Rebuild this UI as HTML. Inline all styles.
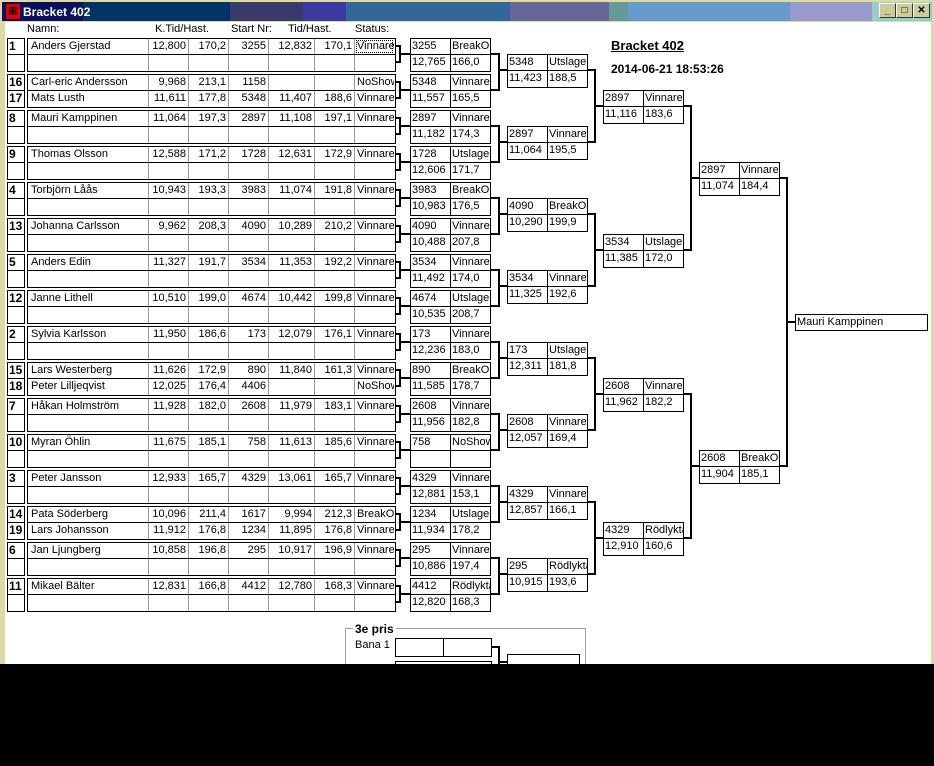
<!DOCTYPE html>
<html><head><meta charset="utf-8"><style>
*{margin:0;padding:0}
body{width:934px;height:766px;position:relative;overflow:hidden;background:#000;font-family:"Liberation Sans",Arial,sans-serif;font-size:11px;color:#000}
#win{position:absolute;left:0;top:0;width:934px;height:664px;background:#dedaa6}
#tb{position:absolute;left:2px;top:2px;width:930px;height:19px;background:linear-gradient(90deg,#0a1060 0 81px,#003366 81px 228px,#3a3a6a 228px 301px,#3a3aa0 301px 344px,#336699 344px 508px,#666699 508px 607px,#669999 607px 626px,#6699cc 626px 788px,#9999cc 788px 870px,#99cccc 870px)}
#tt{position:absolute;left:21px;top:3px;color:#fff;font-weight:bold;font-size:12px}
#ic{position:absolute;left:4px;top:2px;width:14px;height:15px;background:#e00000;color:#000;font-size:10px;line-height:15px;text-align:center;font-weight:bold}
.btn{position:absolute;top:3px;width:15px;height:13px;background:#cccc99;border:1px solid;border-color:#fff #333 #333 #fff;font-size:10px;line-height:13px;text-align:center;font-weight:bold}
#cl{position:absolute;left:5px;top:22px;width:926px;height:642px;background:#fff}
.a{position:absolute;white-space:nowrap}
.g{position:absolute;left:27px;width:369px;height:34px;border:1px solid #000;box-sizing:border-box}
.rw{display:flex;height:16px;box-sizing:border-box}
.rw:first-child{border-bottom:1px solid #000}
.g span{box-sizing:border-box;border-right:1px solid #999;height:100%;overflow:hidden;white-space:nowrap;text-align:right;padding-right:2px;line-height:15px;flex:none;width:40px}
.g span:nth-child(1){width:121px;text-align:left;padding-left:3px}
.g span:nth-child(5){width:46px}
.g span:nth-child(7){border-right:none;text-align:left;padding-left:2px;padding-right:0;width:39px}
.s{position:absolute;left:7px;width:18px;height:34px;border:1px solid #000;box-sizing:border-box;font-weight:bold;font-size:12px}
.s div{height:16px;line-height:15px;padding-left:1px;box-sizing:border-box}
.s div:first-child{border-bottom:1px solid #000}
.b{position:absolute;width:81px;height:34px;border:1px solid #000;box-sizing:border-box}
.b .rw{display:flex}
.b span{width:40px;box-sizing:border-box;border-right:1px solid #000;height:100%;overflow:hidden;white-space:nowrap;padding-left:1px;line-height:15px;flex:none}
.b span:nth-child(2){border-right:none;width:39px}
.r1{left:410px}.r2{left:507px}.r3{left:603px}.r4{left:699px}
svg{position:absolute;left:0;top:0}
#blk{position:absolute;left:0;top:664px;width:934px;height:102px;background:#000}
</style></head><body>
<div id="win">
<div id="tb"><div id="ic">⊞</div><div id="tt">Bracket 402</div></div>
<div class="btn" style="left:879px">_</div><div class="btn" style="left:896px">□</div><div class="btn" style="left:913px">✕</div>
<div id="cl"></div>
</div>
<div class="a" style="left:27px;top:23px">Namn:</div>
<div class="a" style="left:155px;top:23px">K.Tid/Hast.</div>
<div class="a" style="left:231px;top:23px">Start Nr:</div>
<div class="a" style="left:288px;top:23px">Tid/Hast.</div>
<div class="a" style="left:355px;top:23px">Status:</div>
<div class="a" style="left:611px;top:38px;font-weight:bold;font-size:13px;text-decoration:underline">Bracket 402</div>
<div class="a" style="left:611px;top:62px;font-weight:bold;font-size:12px">2014-06-21 18:53:26</div>

<div class="s" style="top:38px"><div>1</div><div></div></div>
<div class="g" style="top:38px"><div class="rw"><span>Anders Gjerstad</span><span>12,800</span><span>170,2</span><span>3255</span><span>12,832</span><span>170,1</span><span style="outline:1px dotted #000;outline-offset:-2px">Vinnare</span></div><div class="rw"><span></span><span></span><span></span><span></span><span></span><span></span><span></span></div></div>
<div class="s" style="top:74px"><div>16</div><div>17</div></div>
<div class="g" style="top:74px"><div class="rw"><span>Carl-eric Andersson</span><span>9,968</span><span>213,1</span><span>1158</span><span></span><span></span><span>NoShow</span></div><div class="rw"><span>Mats Lusth</span><span>11,611</span><span>177,8</span><span>5348</span><span>11,407</span><span>188,6</span><span>Vinnare</span></div></div>
<div class="s" style="top:110px"><div>8</div><div></div></div>
<div class="g" style="top:110px"><div class="rw"><span>Mauri Kamppinen</span><span>11,064</span><span>197,3</span><span>2897</span><span>11,108</span><span>197,1</span><span>Vinnare</span></div><div class="rw"><span></span><span></span><span></span><span></span><span></span><span></span><span></span></div></div>
<div class="s" style="top:146px"><div>9</div><div></div></div>
<div class="g" style="top:146px"><div class="rw"><span>Thomas Olsson</span><span>12,588</span><span>171,2</span><span>1728</span><span>12,631</span><span>172,9</span><span>Vinnare</span></div><div class="rw"><span></span><span></span><span></span><span></span><span></span><span></span><span></span></div></div>
<div class="s" style="top:182px"><div>4</div><div></div></div>
<div class="g" style="top:182px"><div class="rw"><span>Torbjörn Låås</span><span>10,943</span><span>193,3</span><span>3983</span><span>11,074</span><span>191,8</span><span>Vinnare</span></div><div class="rw"><span></span><span></span><span></span><span></span><span></span><span></span><span></span></div></div>
<div class="s" style="top:218px"><div>13</div><div></div></div>
<div class="g" style="top:218px"><div class="rw"><span>Johanna Carlsson</span><span>9,962</span><span>208,3</span><span>4090</span><span>10,289</span><span>210,2</span><span>Vinnare</span></div><div class="rw"><span></span><span></span><span></span><span></span><span></span><span></span><span></span></div></div>
<div class="s" style="top:254px"><div>5</div><div></div></div>
<div class="g" style="top:254px"><div class="rw"><span>Anders Edin</span><span>11,327</span><span>191,7</span><span>3534</span><span>11,353</span><span>192,2</span><span>Vinnare</span></div><div class="rw"><span></span><span></span><span></span><span></span><span></span><span></span><span></span></div></div>
<div class="s" style="top:290px"><div>12</div><div></div></div>
<div class="g" style="top:290px"><div class="rw"><span>Janne Lithell</span><span>10,510</span><span>199,0</span><span>4674</span><span>10,442</span><span>199,8</span><span>Vinnare</span></div><div class="rw"><span></span><span></span><span></span><span></span><span></span><span></span><span></span></div></div>
<div class="s" style="top:326px"><div>2</div><div></div></div>
<div class="g" style="top:326px"><div class="rw"><span>Sylvia Karlsson</span><span>11,950</span><span>186,6</span><span>173</span><span>12,079</span><span>176,1</span><span>Vinnare</span></div><div class="rw"><span></span><span></span><span></span><span></span><span></span><span></span><span></span></div></div>
<div class="s" style="top:362px"><div>15</div><div>18</div></div>
<div class="g" style="top:362px"><div class="rw"><span>Lars Westerberg</span><span>11,626</span><span>172,9</span><span>890</span><span>11,840</span><span>161,3</span><span>Vinnare</span></div><div class="rw"><span>Peter Lilljeqvist</span><span>12,025</span><span>176,4</span><span>4406</span><span></span><span></span><span>NoShow</span></div></div>
<div class="s" style="top:398px"><div>7</div><div></div></div>
<div class="g" style="top:398px"><div class="rw"><span>Håkan Holmström</span><span>11,928</span><span>182,0</span><span>2608</span><span>11,979</span><span>183,1</span><span>Vinnare</span></div><div class="rw"><span></span><span></span><span></span><span></span><span></span><span></span><span></span></div></div>
<div class="s" style="top:434px"><div>10</div><div></div></div>
<div class="g" style="top:434px"><div class="rw"><span>Myran Öhlin</span><span>11,675</span><span>185,1</span><span>758</span><span>11,613</span><span>185,6</span><span>Vinnare</span></div><div class="rw"><span></span><span></span><span></span><span></span><span></span><span></span><span></span></div></div>
<div class="s" style="top:470px"><div>3</div><div></div></div>
<div class="g" style="top:470px"><div class="rw"><span>Peter Jansson</span><span>12,933</span><span>165,7</span><span>4329</span><span>13,061</span><span>165,7</span><span>Vinnare</span></div><div class="rw"><span></span><span></span><span></span><span></span><span></span><span></span><span></span></div></div>
<div class="s" style="top:506px"><div>14</div><div>19</div></div>
<div class="g" style="top:506px"><div class="rw"><span>Pata Söderberg</span><span>10,096</span><span>211,4</span><span>1617</span><span>9,994</span><span>212,3</span><span>BreakOut</span></div><div class="rw"><span>Lars Johansson</span><span>11,912</span><span>176,8</span><span>1234</span><span>11,895</span><span>176,8</span><span>Vinnare</span></div></div>
<div class="s" style="top:542px"><div>6</div><div></div></div>
<div class="g" style="top:542px"><div class="rw"><span>Jan Ljungberg</span><span>10,858</span><span>196,8</span><span>295</span><span>10,917</span><span>196,9</span><span>Vinnare</span></div><div class="rw"><span></span><span></span><span></span><span></span><span></span><span></span><span></span></div></div>
<div class="s" style="top:578px"><div>11</div><div></div></div>
<div class="g" style="top:578px"><div class="rw"><span>Mikael Bälter</span><span>12,831</span><span>166,8</span><span>4412</span><span>12,780</span><span>168,3</span><span>Vinnare</span></div><div class="rw"><span></span><span></span><span></span><span></span><span></span><span></span><span></span></div></div>

<div class="b r1" style="top:38px"><div class="rw"><span>3255</span><span>BreakOut</span></div><div class="rw"><span>12,765</span><span>166,0</span></div></div>
<div class="b r1" style="top:74px"><div class="rw"><span>5348</span><span>Vinnare</span></div><div class="rw"><span>11,557</span><span>165,5</span></div></div>
<div class="b r1" style="top:110px"><div class="rw"><span>2897</span><span>Vinnare</span></div><div class="rw"><span>11,182</span><span>174,3</span></div></div>
<div class="b r1" style="top:146px"><div class="rw"><span>1728</span><span>Utslagen</span></div><div class="rw"><span>12,606</span><span>171,7</span></div></div>
<div class="b r1" style="top:182px"><div class="rw"><span>3983</span><span>BreakOut</span></div><div class="rw"><span>10,983</span><span>176,5</span></div></div>
<div class="b r1" style="top:218px"><div class="rw"><span>4090</span><span>Vinnare</span></div><div class="rw"><span>10,488</span><span>207,8</span></div></div>
<div class="b r1" style="top:254px"><div class="rw"><span>3534</span><span>Vinnare</span></div><div class="rw"><span>11,492</span><span>174,0</span></div></div>
<div class="b r1" style="top:290px"><div class="rw"><span>4674</span><span>Utslagen</span></div><div class="rw"><span>10,535</span><span>208,7</span></div></div>
<div class="b r1" style="top:326px"><div class="rw"><span>173</span><span>Vinnare</span></div><div class="rw"><span>12,236</span><span>183,0</span></div></div>
<div class="b r1" style="top:362px"><div class="rw"><span>890</span><span>BreakOut</span></div><div class="rw"><span>11,585</span><span>178,7</span></div></div>
<div class="b r1" style="top:398px"><div class="rw"><span>2608</span><span>Vinnare</span></div><div class="rw"><span>11,956</span><span>182,8</span></div></div>
<div class="b r1" style="top:434px"><div class="rw"><span>758</span><span>NoShow</span></div><div class="rw"><span></span><span></span></div></div>
<div class="b r1" style="top:470px"><div class="rw"><span>4329</span><span>Vinnare</span></div><div class="rw"><span>12,881</span><span>153,1</span></div></div>
<div class="b r1" style="top:506px"><div class="rw"><span>1234</span><span>Utslagen</span></div><div class="rw"><span>11,934</span><span>178,2</span></div></div>
<div class="b r1" style="top:542px"><div class="rw"><span>295</span><span>Vinnare</span></div><div class="rw"><span>10,886</span><span>197,4</span></div></div>
<div class="b r1" style="top:578px"><div class="rw"><span>4412</span><span>Rödlyktan</span></div><div class="rw"><span>12,820</span><span>168,3</span></div></div>

<div class="b r2" style="top:54px"><div class="rw"><span>5348</span><span>Utslagen</span></div><div class="rw"><span>11,423</span><span>188,5</span></div></div>
<div class="b r2" style="top:126px"><div class="rw"><span>2897</span><span>Vinnare</span></div><div class="rw"><span>11,064</span><span>195,5</span></div></div>
<div class="b r2" style="top:198px"><div class="rw"><span>4090</span><span>BreakOut</span></div><div class="rw"><span>10,290</span><span>199,9</span></div></div>
<div class="b r2" style="top:270px"><div class="rw"><span>3534</span><span>Vinnare</span></div><div class="rw"><span>11,325</span><span>192,6</span></div></div>
<div class="b r2" style="top:342px"><div class="rw"><span>173</span><span>Utslagen</span></div><div class="rw"><span>12,311</span><span>181,8</span></div></div>
<div class="b r2" style="top:414px"><div class="rw"><span>2608</span><span>Vinnare</span></div><div class="rw"><span>12,057</span><span>169,4</span></div></div>
<div class="b r2" style="top:486px"><div class="rw"><span>4329</span><span>Vinnare</span></div><div class="rw"><span>12,857</span><span>166,1</span></div></div>
<div class="b r2" style="top:558px"><div class="rw"><span>295</span><span>Rödlyktan</span></div><div class="rw"><span>10,915</span><span>193,6</span></div></div>

<div class="b r3" style="top:90px"><div class="rw"><span>2897</span><span>Vinnare</span></div><div class="rw"><span>11,116</span><span>183,6</span></div></div>
<div class="b r3" style="top:234px"><div class="rw"><span>3534</span><span>Utslagen</span></div><div class="rw"><span>11,385</span><span>172,0</span></div></div>
<div class="b r3" style="top:378px"><div class="rw"><span>2608</span><span>Vinnare</span></div><div class="rw"><span>11,962</span><span>182,2</span></div></div>
<div class="b r3" style="top:522px"><div class="rw"><span>4329</span><span>Rödlyktan</span></div><div class="rw"><span>12,910</span><span>160,6</span></div></div>

<div class="b r4" style="top:162px"><div class="rw"><span>2897</span><span>Vinnare</span></div><div class="rw"><span>11,074</span><span>184,4</span></div></div>
<div class="b r4" style="top:450px"><div class="rw"><span>2608</span><span>BreakOut</span></div><div class="rw"><span>11,904</span><span>185,1</span></div></div>

<div class="a" style="left:795px;top:314px;width:133px;height:17px;border:1px solid #000;box-sizing:border-box;padding-left:1px;line-height:15px">Mauri Kamppinen</div>

<div class="a" style="left:345px;top:628px;width:241px;height:50px;border:1px solid #a0a0a0;box-sizing:border-box"></div>
<div class="a" style="left:353px;top:622px;background:#fff;padding:0 2px;font-weight:bold;font-size:12px">3e pris</div>
<div class="a" style="left:355px;top:639px">Bana 1</div>
<div class="a" style="left:395px;top:638px;width:97px;height:19px;border:1px solid #000;box-sizing:border-box"><div style="position:absolute;left:47px;top:0;width:1px;height:17px;background:#000"></div></div>
<div class="a" style="left:395px;top:661px;width:97px;height:19px;border:1px solid #000;box-sizing:border-box"></div>
<div class="a" style="left:507px;top:654px;width:73px;height:19px;border:1px solid #000;box-sizing:border-box"></div>

<svg width="934" height="664" viewBox="0 0 934 664" fill="none" stroke="#000" stroke-width="2">
<path d="M395 46H400V62H395M400 54H410
M395 82H400V98H395M400 90H410
M395 118H400V134H395M400 126H410
M395 154H400V170H395M400 162H410
M395 190H400V206H395M400 198H410
M395 226H400V242H395M400 234H410
M395 262H400V278H395M400 270H410
M395 298H400V314H395M400 306H410
M395 334H400V350H395M400 342H410
M395 370H400V386H395M400 378H410
M395 406H400V422H395M400 414H410
M395 442H400V458H395M400 450H410
M395 478H400V494H395M400 486H410
M395 514H400V530H395M400 522H410
M395 550H400V566H395M400 558H410
M395 586H400V602H395M400 594H410
M490 54H499V90H490M499 70H507
M490 126H499V162H490M499 142H507
M490 198H499V234H490M499 214H507
M490 270H499V306H490M499 286H507
M490 342H499V378H490M499 358H507
M490 414H499V450H490M499 430H507
M490 486H499V522H490M499 502H507
M490 558H499V594H490M499 574H507
M587 70H595V142H587M595 106H603
M587 214H595V286H587M595 250H603
M587 358H595V430H587M595 394H603
M587 502H595V574H587M595 538H603
M683 106H691V250H683M691 178H699
M683 394H691V538H683M691 466H699
M779 178H787V466H779M787 322H795
M492 647H499V664M499 662H507"/>
</svg>
<div id="blk"></div>
</body></html>
